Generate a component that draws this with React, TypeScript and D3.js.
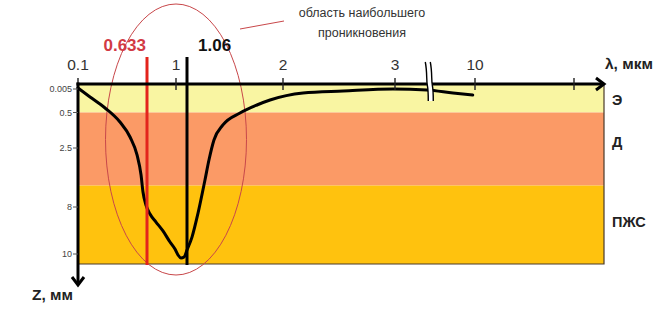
import React from "react";
import * as d3 from "d3";

// ---- data ----
const xTickValues = [0.1, 1, 2, 3, 10, 20];
const xTickLabels = ["0.1", "1", "2", "3", "10", ""];
const yTickValues = [0.005, 0.5, 2.5, 8, 10];
const yTickLabels = ["0.005", "0.5", "2.5", "8", "10"];
const layerNames = ["Э", "Д", "ПЖС"];
const layerTop = [0, 0.5, 6];
const layerBottom = [0.5, 6, 10.4];
const markerWavelengths = [0.633, 1.06];
const markerLabels = ["0.633", "1.06"];
const curveLambda = [
  0.1, 0.193, 0.309, 0.424, 0.502, 0.556, 0.587, 0.602, 0.625, 0.671, 0.747, 0.835, 0.924, 0.987,
  1.011, 1.027, 1.044, 1.06, 1.109, 1.168, 1.236, 1.275, 1.324, 1.412, 1.579, 1.745, 1.873,
  2.179, 2.536, 2.982, 5.8, 8.075, 9.8,
];
const curveDepth = [
  0.004, 0.173, 0.405, 1.035, 1.88, 3.15, 5.02, 6.6, 7.81, 8.3, 8.64, 9.02, 9.49, 9.79,
  10.04, 10.16, 10.12, 9.83, 9.28, 8.26, 5.48, 3.62, 2.05, 1.2, 0.528, 0.342, 0.237,
  0.089, 0.047, 0.005, 0.026, 0.089, 0.131,
];
const breakAt = 6;

// ---- scales (piecewise, schematic axes) ----
const x = d3
  .scaleLinear()
  .domain([0.1, 0.633, 1, 1.06, 2, 3, 10, 20, 21])
  .range([78, 147, 176, 187, 283, 395, 475, 574, 604]);
const y = d3
  .scaleLinear()
  .domain([0, 0.005, 0.5, 2.5, 8, 10, 10.4])
  .range([84, 89, 112.5, 148, 207, 254, 264]);

const X0 = x(0.1);
const X1 = x(21);
const Y0 = y(0);
const Y1 = y(10.4);

const layerColors = ["#f9f5a2", "#fb9a66", "#ffc20e"];
const markerColors = ["#e3241c", "#000000"];
const markerTextColors = ["#d23a44", "#111111"];

export default function App() {
  const line = d3
    .line<number>()
    .x((d, i) => x(curveLambda[i]))
    .y((d, i) => y(curveDepth[i]))
    .curve(d3.curveMonotoneX);
  const curvePath = line(curveLambda) || "";
  const bx = x(breakAt);
  const leftStroke = (o: number) =>
    `M${bx - 4 + o},62 C${bx - 2 + o},72 ${bx - 3 + o},80 ${bx - 2 + o},85 C${bx - 1 + o},90 ${bx - 1 + o},95 ${bx - 1 + o},101`;
  const gapFill = `M${bx - 4},62 C${bx - 2},72 ${bx - 3},80 ${bx - 2},85 C${bx - 1},90 ${bx - 1},95 ${bx - 1},101 L${bx + 4},101 C${bx + 4},95 ${bx + 4},90 ${bx + 3},85 C${bx + 2},80 ${bx + 3},72 ${bx + 1},62 Z`;
  const font = "'Liberation Sans', Arial, sans-serif";

  return (
    <svg
      width={670}
      height={314}
      style={{ position: "absolute", left: 0, top: 0, background: "#fff" }}
      fontFamily={font}
    >
      {/* layers */}
      {layerNames.map((n, i) => (
        <rect
          key={n}
          x={X0}
          y={y(layerTop[i])}
          width={X1 - X0}
          height={y(layerBottom[i]) - y(layerTop[i])}
          fill={layerColors[i]}
        />
      ))}
      {/* border */}
      <path d={`M${X1},${Y0} L${X1},${Y1} L${X0},${Y1}`} fill="none" stroke="#4a3a2a" strokeWidth={1.2} />

      {/* ellipse of penetration region */}
      <ellipse cx={176} cy={139.5} rx={70.5} ry={135.5} fill="none" stroke="#c8474a" strokeWidth={1} />
      <line x1={240} y1={29} x2={284} y2={21} stroke="#c8474a" strokeWidth={1} />

      {/* curve */}
      <path d={curvePath} fill="none" stroke="#000" strokeWidth={3} strokeLinejoin="round" strokeLinecap="round" />

      {/* marker lines */}
      {markerWavelengths.map((w, i) => (
        <line key={w} x1={x(w)} x2={x(w)} y1={57} y2={Y1 + 1} stroke={markerColors[i]} strokeWidth={3} />
      ))}
      <text x={x(markerWavelengths[0]) - 1} y={51} textAnchor="end" fontSize={17} fontWeight="bold" fill={markerTextColors[0]}>
        {markerLabels[0]}
      </text>
      <text x={x(markerWavelengths[1]) + 11} y={51} textAnchor="start" fontSize={17} fontWeight="bold" fill={markerTextColors[1]}>
        {markerLabels[1]}
      </text>

      {/* top axis */}
      <line x1={X0 - 1.5} x2={X1} y1={Y0} y2={Y0} stroke="#000" strokeWidth={3} />
      <path d={`M${X1 - 8},${Y0 - 6} L${X1},${Y0} L${X1 - 8},${Y0 + 6}`} fill="none" stroke="#000" strokeWidth={3} />
      {xTickValues.map((v, i) => (
        <g key={v}>
          <line x1={x(v)} x2={x(v)} y1={Y0 - 6} y2={Y0 + 6} stroke="#222" strokeWidth={1.4} />
          <text x={x(v)} y={70} textAnchor="middle" fontSize={15.5} fill="#333">
            {xTickLabels[i]}
          </text>
        </g>
      ))}

      {/* break marks */}
      <path d={gapFill} fill="#fff" stroke="none" />
      <path d={leftStroke(0)} fill="none" stroke="#000" strokeWidth={1.4} />
      <path d={leftStroke(5)} fill="none" stroke="#000" strokeWidth={1.4} />

      {/* left axis */}
      <line x1={X0} x2={X0} y1={Y0 - 1.5} y2={284} stroke="#000" strokeWidth={3} />
      <path d={`M${X0 - 6},277 L${X0},285 L${X0 + 6},277`} fill="none" stroke="#000" strokeWidth={3} />
      {yTickValues.map((v, i) => (
        <g key={v}>
          <line x1={X0 - 5} x2={X0} y1={y(v)} y2={y(v)} stroke="#555" strokeWidth={1} />
          <text x={72} y={y(v)} dy="0.35em" textAnchor="end" fontSize={9} fill="#444">
            {yTickLabels[i]}
          </text>
        </g>
      ))}

      {/* axis titles */}
      <text x={605} y={69} fontSize={15.5} fontWeight="bold" fill="#222">
        λ, мкм
      </text>
      <text x={32} y={300} fontSize={15.5} fontWeight="bold" fill="#222">
        Z, мм
      </text>

      {/* layer names */}
      {layerNames.map((n, i) => (
        <text
          key={n}
          x={612}
          y={[100, 142, 222][i]}
          dy="0.35em"
          fontSize={14.5}
          fontWeight="bold"
          fill="#222"
        >
          {n}
        </text>
      ))}

      {/* annotation */}
      <text x={362} y={17} textAnchor="middle" fontSize={12.5} fill="#333">
        область наибольшего
      </text>
      <text x={362} y={37} textAnchor="middle" fontSize={12.5} fill="#333">
        проникновения
      </text>
    </svg>
  );
}
